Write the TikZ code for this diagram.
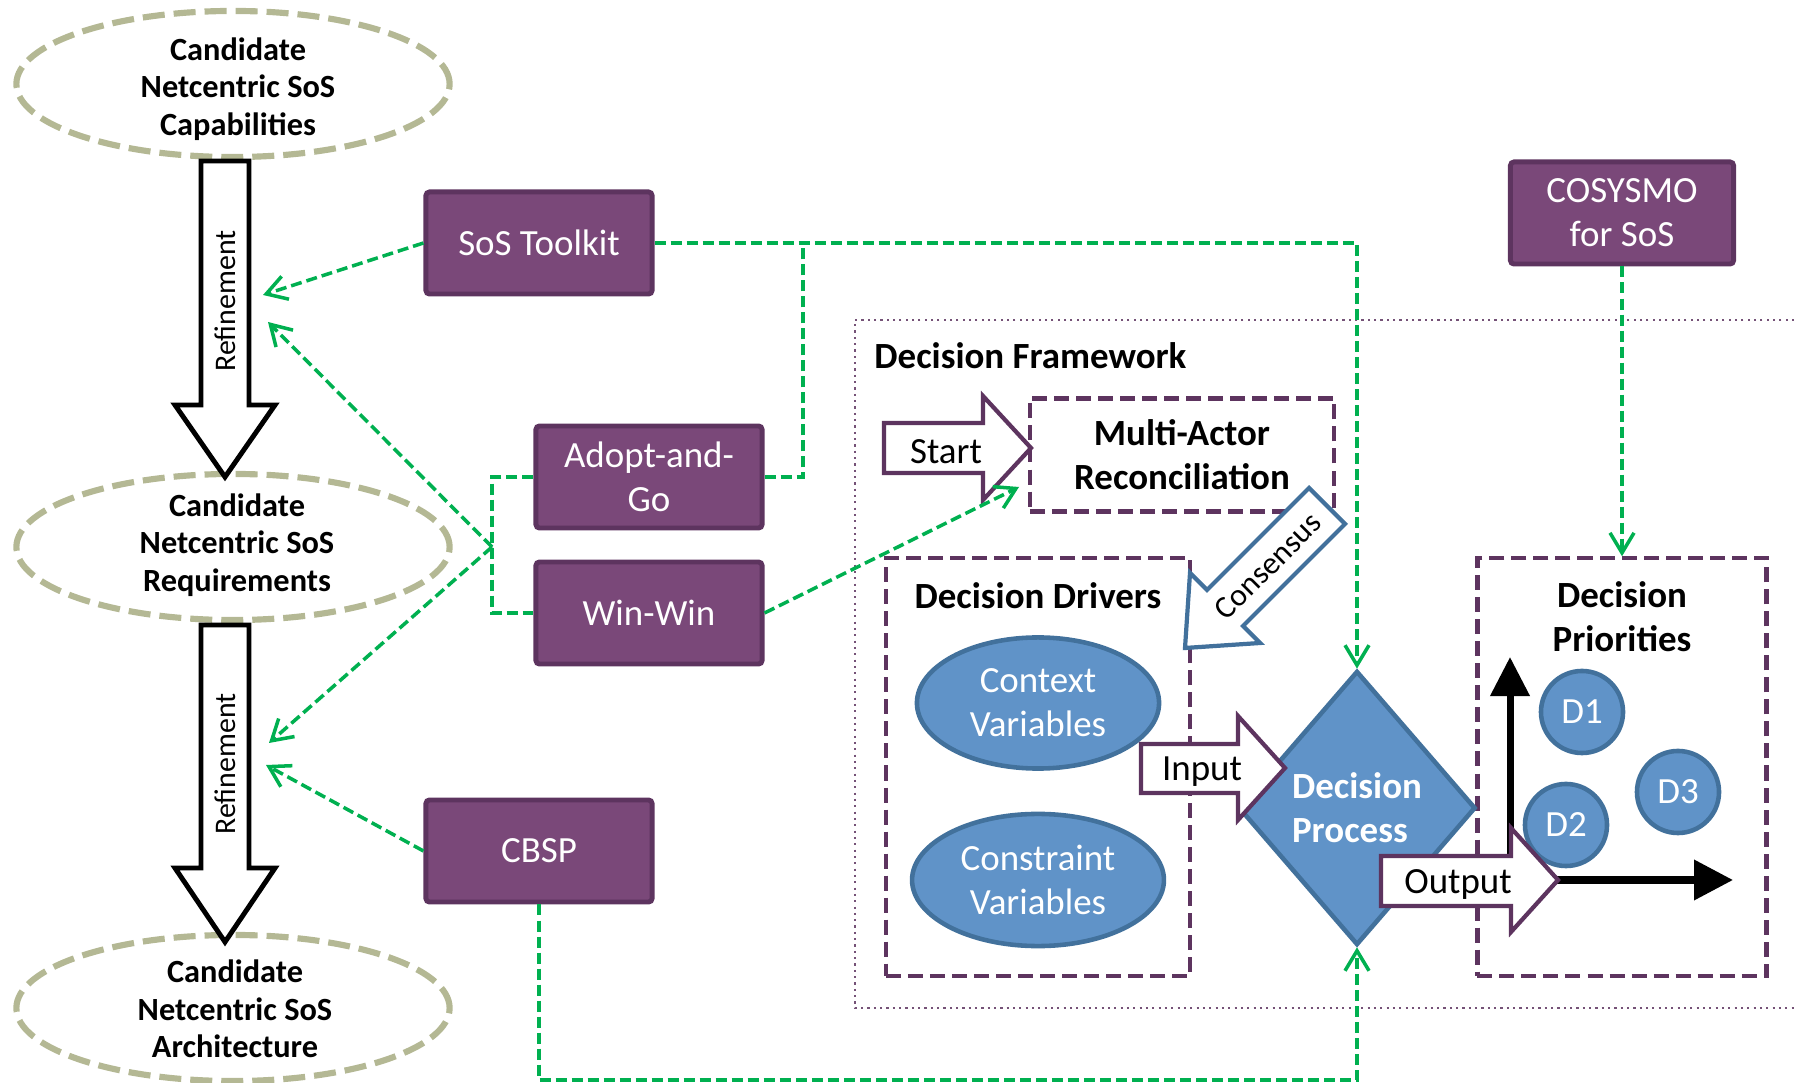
\documentclass[tikz,border=0pt]{standalone}
\usepackage{fontspec}
\setmainfont{Carlito}
\usetikzlibrary{shapes.geometric,arrows.meta,positioning}

\definecolor{toolfill}{RGB}{122,72,121}
\definecolor{toolline}{RGB}{93,52,95}
\definecolor{goalline}{RGB}{180,184,148}
\definecolor{linkgreen}{RGB}{0,176,80}
\definecolor{varfill}{RGB}{96,147,200}
\definecolor{varline}{RGB}{66,113,156}

\begin{document}
\begin{tikzpicture}
			[x=0.01cm, y=-0.01cm,
			every node/.style={align=center, font=\fontsize{10.5}{12.6}\selectfont},
			goal/.style={ellipse, draw=goalline, line width=1.75pt, dash pattern=on 0.22cm off 0.09cm,
				minimum width=4.33cm, minimum height=1.46cm},
			goaltext/.style={font=\bfseries\fontsize{9.2}{10.6}\selectfont},
			title/.style={font=\bfseries\fontsize{10.5}{12.6}\selectfont},
			tool/.style={rectangle, rounded corners=1pt, draw=toolline, fill=toolfill, line width=1.4pt,
				text=white, minimum width=2.26cm, minimum height=1.02cm},
			group/.style={rectangle, draw=toolline, line width=1.2pt, dash pattern=on 0.15cm off 0.07cm},
			var/.style={ellipse, draw=varline, fill=varfill, line width=1.3pt, text=white,
				minimum width=2.42cm, minimum height=1.31cm},
			prio/.style={circle, draw=varline, fill=varfill, line width=1.3pt, text=white,
				minimum size=0.82cm, inner sep=0pt},
			link/.style={draw=linkgreen, line width=1pt, dash pattern=on 0.11cm off 0.05cm},
			linkto/.style={link, -{Straight Barb[length=0.2cm, width=0.24cm]}},
			flow/.style={draw=toolline, fill=white, line width=1.2pt, line join=miter},
			refine/.style={draw=black, fill=white, line width=1.4pt, line join=miter}]
			\useasboundingbox (0,0) rectangle (1794,1083);

			% decision framework frame
			\draw[toolline!85, line width=0.6pt, dash pattern=on 0.6pt off 1.2pt]
				(1794,320) -- (855,320) -- (855,1008) -- (1794,1008);
			\node[title, anchor=west] (framework) at (862,356) {Decision Framework};

			% refinement chain
			\node[goal] (cap) at (233,84) {};
			\node[goaltext] (cap text) at (238,89) {Candidate\\Netcentric SoS\\Capabilities};
			\node[goal] (req) at (233,547) {};
			\node[goaltext] (req text) at (237,545) {Candidate\\Netcentric SoS\\Requirements};
			\node[goal] (arch) at (233,1008) {};
			\node[goaltext] (arch text) at (235,1009) {Candidate\\Netcentric SoS\\Architecture};

			\draw[refine] (201,161) -- (249,161) -- (249,405) -- (275,405) -- (225,477)
				-- (175,405) -- (201,405) -- cycle;
			\node[rotate=90, font=\fontsize{8.5}{10}\selectfont] (refine1) at (225,301) {Refinement};
			\draw[refine] (201,625) -- (249,625) -- (249,868) -- (275,868) -- (225,942)
				-- (175,868) -- (201,868) -- cycle;
			\node[rotate=90, font=\fontsize{8.5}{10}\selectfont] (refine2) at (225,764) {Refinement};

			\coordinate (r1a) at (263,295);
			\coordinate (r1b) at (268,322);
			\coordinate (r2a) at (269,743);
			\coordinate (r2b) at (266,765);

			% groups
			\node[group, title, minimum width=3.04cm, minimum height=1.13cm] (mar) at (1182,455)
				{Multi-Actor\\Reconciliation};
			\node[group, minimum width=3.04cm, minimum height=4.17cm] (drivers) at (1038,767) {};
			\node[title] (drivers title) at (1038,596) {Decision Drivers};
			\node[group, minimum width=2.89cm, minimum height=4.17cm] (prios) at (1622,767) {};
			\node[title] (prios title) at (1622,617) {Decision\\Priorities};

			\node[var] (context) at (1038,703) {Context\\Variables};
			\node[var] (constraint) at (1038,880) {Constraint\\Variables};

			\node[diamond, draw=varline, fill=varfill, line width=1.3pt, text=white, inner sep=0pt,
				minimum width=2.37cm, minimum height=2.74cm, title, align=left] (dp) at (1357,808)
				{Decision\\Process};

			% priorities axes
			\draw[line width=2pt, line join=miter,
				{Triangle[length=0.39cm, width=0.38cm]}-{Triangle[length=0.39cm, width=0.39cm]}]
				(1510,657) -- (1510,880) -- (1733,880);
			\node[prio] (d1) at (1582,712) {D1};
			\node[prio] (d2) at (1566,825) {D2};
			\node[prio] (d3) at (1678,792) {D3};

			% block arrows
			\draw[flow] (884,423) -- (983,423) -- (983,396) -- (1031,448) -- (983,500)
				-- (983,473) -- (884,473) -- cycle;
			\node (start) at (946,452) {Start};
			\draw[flow] (1141,744) -- (1238,744) -- (1238,716) -- (1285,768) -- (1238,820)
				-- (1238,793) -- (1141,793) -- cycle;
			\node (input) at (1202,772) {Input};
			\draw[flow] (1381,856) -- (1511,856) -- (1511,828) -- (1558,880) -- (1511,932)
				-- (1511,906) -- (1381,906) -- cycle;
			\node (output) at (1458,884) {Output};
			\draw[draw=varline, fill=white, line width=1.2pt, line join=miter]
				(1309,488) -- (1345,524) -- (1243,626) -- (1260,643) -- (1185,648)
				-- (1190,573) -- (1207,590) -- cycle;
			\node[rotate=45, font=\fontsize{9}{10}\selectfont] (consensus) at (1268,566) {Consensus};

			% tools
			\node[tool] (sos) at (539,243) {SoS Toolkit};
			\node[tool] (adopt) at (649,477) {Adopt-and-\\Go};
			\node[tool] (winwin) at (649,613) {Win-Win};
			\node[tool] (cbsp) at (539,851) {CBSP};
			\node[tool, minimum width=2.23cm] (cosysmo) at (1622,213) {COSYSMO\\for SoS};

			% links
			\coordinate (join) at (803,243);
			\coordinate (fork) at (492,547);
			\coordinate (mar in) at (1019,487);
			\coordinate (bus) at (1357,1080);
			\draw[linkto] (sos.west) -- (r1a);
			\draw[linkto] (sos.east) -| (dp.north);
			\draw[link] (adopt.east) -| (join);
			\draw[link] (adopt.west) -| (fork) |- (winwin.west);
			\draw[linkto] (fork) -- (r1b);
			\draw[linkto] (fork) -- (r2a);
			\draw[linkto] (winwin.east) -- (mar in);
			\draw[linkto] (cbsp.west) -- (r2b);
			\draw[linkto] (cbsp.south) |- (bus) -- (dp.south);
			\draw[linkto] (cosysmo.south) -- (cosysmo.south |- prios.north);
		\end{tikzpicture}
\end{document}
